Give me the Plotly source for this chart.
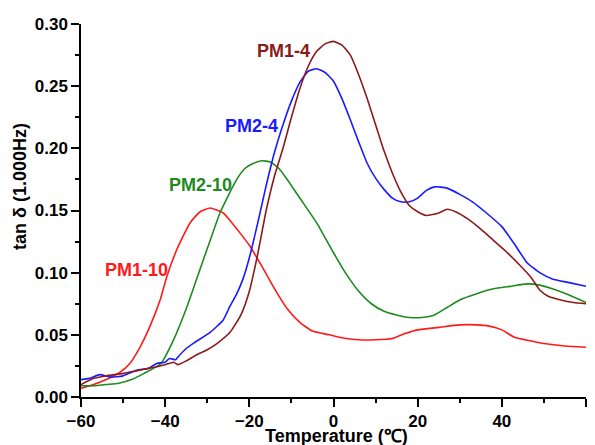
import plotly.graph_objects as go

# tan delta (1.000 Hz) versus temperature for four samples
pm1_10_t = [-60, -57, -54, -50.7, -48.4, -46, -43.6, -41.2, -39.6, -37.3, -34.1, -31.7, -29.3, -26.2, -24.6, -22, -20, -17, -14, -11, -8, -5, -1, 3, 6, 10, 14, 17, 20, 25, 30, 34, 37, 40, 43, 47, 50, 55, 60]
pm1_10_v = [0.007, 0.010, 0.014, 0.020, 0.027, 0.040, 0.057, 0.078, 0.097, 0.118, 0.140, 0.149, 0.152, 0.148, 0.142, 0.131, 0.122, 0.105, 0.087, 0.071, 0.060, 0.053, 0.050, 0.047, 0.046, 0.046, 0.047, 0.051, 0.054, 0.056, 0.058, 0.058, 0.057, 0.054, 0.048, 0.045, 0.043, 0.041, 0.040]

pm2_10_t = [-60, -57, -54, -51, -48, -45, -41, -38, -35, -32, -29.3, -27, -25, -23, -21, -19, -17, -15, -13, -11, -8, -4, 0, 3, 6, 9, 12, 15, 18, 21, 24, 27, 30, 34, 38, 42, 46, 49, 52, 56, 60]
pm2_10_v = [0.009, 0.009, 0.010, 0.011, 0.014, 0.019, 0.027, 0.046, 0.071, 0.100, 0.126, 0.148, 0.162, 0.175, 0.184, 0.188, 0.190, 0.189, 0.184, 0.175, 0.160, 0.140, 0.116, 0.099, 0.085, 0.075, 0.069, 0.066, 0.064, 0.064, 0.066, 0.072, 0.078, 0.083, 0.087, 0.089, 0.091, 0.090, 0.087, 0.082, 0.076]

pm2_4_t = [-60, -58, -55.5, -53, -50, -48, -46, -44, -42, -40, -39, -37.5, -37, -35, -33.4, -29.3, -26.2, -24.6, -23, -21.5, -20, -18, -16, -14, -12, -10, -8, -6, -4, -2, 0, 2, 4, 6, 8, 10, 12, 14, 16, 18, 20, 22, 24, 27, 30, 33, 36, 40, 43, 46, 49, 52, 56, 60]
pm2_4_v = [0.014, 0.015, 0.018, 0.016, 0.017, 0.020, 0.022, 0.023, 0.027, 0.028, 0.031, 0.030, 0.032, 0.039, 0.043, 0.052, 0.062, 0.073, 0.083, 0.095, 0.112, 0.140, 0.170, 0.197, 0.219, 0.238, 0.253, 0.262, 0.264, 0.261, 0.254, 0.240, 0.223, 0.205, 0.188, 0.176, 0.167, 0.160, 0.157, 0.157, 0.160, 0.166, 0.169, 0.168, 0.163, 0.157, 0.149, 0.137, 0.123, 0.108, 0.100, 0.095, 0.092, 0.089]

pm1_4_t = [-60, -57, -54, -50, -47, -44, -40, -38, -37, -35, -32.5, -30, -27.7, -24.6, -22, -20, -18, -16, -14, -12, -10, -8, -6, -4, -2, 0, 2, 4, 6, 8, 10, 12, 14, 16, 18, 20, 22, 25, 27, 29, 32, 35, 38, 41, 44, 47, 49, 51, 54, 57, 60]
pm1_4_v = [0.010, 0.015, 0.017, 0.019, 0.021, 0.023, 0.026, 0.028, 0.026, 0.029, 0.034, 0.038, 0.043, 0.052, 0.066, 0.085, 0.115, 0.150, 0.178, 0.200, 0.225, 0.248, 0.266, 0.278, 0.284, 0.286, 0.283, 0.275, 0.259, 0.240, 0.219, 0.198, 0.180, 0.165, 0.154, 0.149, 0.146, 0.148, 0.151, 0.149, 0.143, 0.135, 0.126, 0.117, 0.107, 0.096, 0.086, 0.081, 0.078, 0.076, 0.075]

series = [
    ("PM1-10", pm1_10_t, pm1_10_v, "#ff1a1a"),
    ("PM2-10", pm2_10_t, pm2_10_v, "#1f8a1f"),
    ("PM2-4", pm2_4_t, pm2_4_v, "#1a1aff"),
    ("PM1-4", pm1_4_t, pm1_4_v, "#8b1a1a"),
]

# label anchor points (temperature, tan delta)
label_pos = {
    "PM1-4": (-11.8, 0.278),
    "PM2-4": (-19.5, 0.2176),
    "PM2-10": (-31.5, 0.1706),
    "PM1-10": (-46.9, 0.102),
}

FONT = "Arial, 'Liberation Sans', sans-serif"

fig = go.Figure()
for name, t, v, color in series:
    fig.add_trace(go.Scatter(
        x=t, y=v, mode="lines", name=name,
        line=dict(color=color, width=1.6, shape="spline", smoothing=0.5),
        showlegend=False,
    ))
    lx, ly = label_pos[name]
    fig.add_annotation(
        x=lx, y=ly, xref="x", yref="y", text=f"<b>{name}</b>",
        xanchor="center", yanchor="middle",
        showarrow=False, font=dict(family=FONT, size=18, color=color),
    )

axis_common = dict(
    showgrid=False, zeroline=False, showline=True, linecolor="black", linewidth=1.5,
    ticks="outside", ticklen=8, tickwidth=1.5, tickcolor="black",
    tickfont=dict(family=FONT, size=17, color="black", weight="bold"),
    minor=dict(ticks="outside", ticklen=4, tickwidth=1.5, tickcolor="black"),
    mirror=False,
)

fig.update_xaxes(range=[-60, 60], tickvals=[-60, -40, -20, 0, 20, 40, 60],
                 minor_dtick=10, **axis_common)
fig.update_yaxes(range=[0, 0.30], tickvals=[0, 0.05, 0.10, 0.15, 0.20, 0.25, 0.30],
                 ticktext=["0.00", "0.05", "0.10", "0.15", "0.20", "0.25", "0.30"],
                 minor_dtick=0.025, **axis_common)

ML, MR, MT, MB = 81, 9, 24, 48
W, H = 595, 445
plot_w = W - ML - MR
plot_h = H - MT - MB

fig.update_layout(
    width=W, height=H,
    margin=dict(l=ML, r=MR, t=MT, b=MB),
    paper_bgcolor="white", plot_bgcolor="white",
)

# axis titles positioned in pixel terms relative to the plot area
fig.add_annotation(
    x=(20 - ML) / plot_w, y=(H - MB - 187) / plot_h, xref="paper", yref="paper",
    text="<b>tan δ (1.000Hz)</b>", textangle=-90, xanchor="center", yanchor="middle",
    showarrow=False, font=dict(family=FONT, size=18, color="black"),
)
fig.add_annotation(
    x=(336 - ML) / plot_w, y=(H - MB - 436) / plot_h, xref="paper", yref="paper",
    text="<b>Temperature (℃)</b>", xanchor="center", yanchor="middle",
    showarrow=False, font=dict(family=FONT, size=18, color="black"),
)

fig.write_html("out.html")
